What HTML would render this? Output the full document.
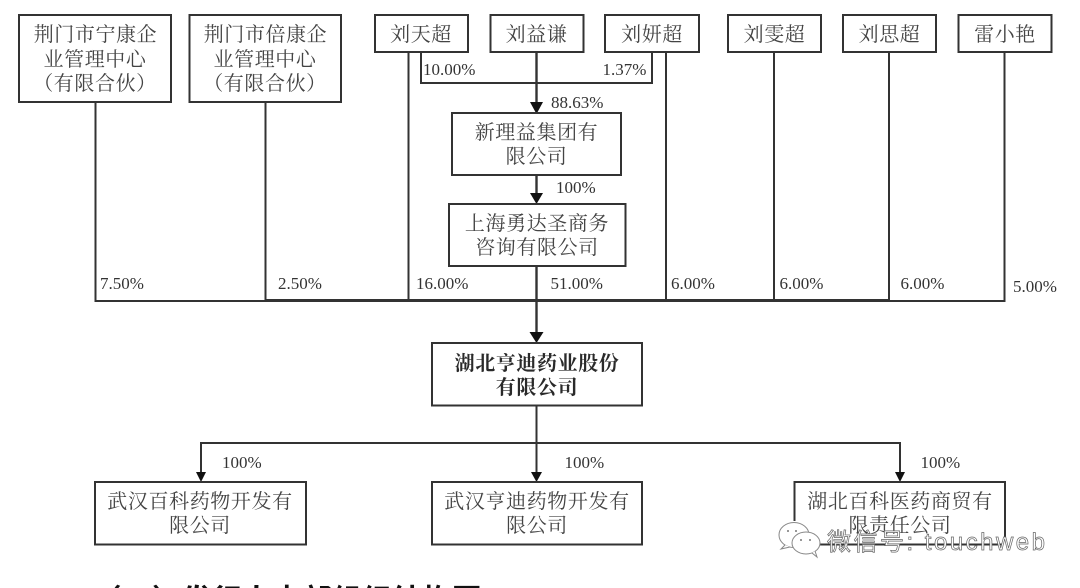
<!DOCTYPE html>
<html lang="zh">
<head>
<meta charset="utf-8">
<title>股权结构图</title>
<style>
html,body{margin:0;padding:0;background:#fff;width:1080px;height:588px;overflow:hidden}
body{position:relative}
svg{display:block;overflow:hidden;filter:blur(.35px)}
.b{fill:#fff;stroke:#333;stroke-width:2}
.l{fill:none;stroke:#333;stroke-width:2}
.a{fill:#111}
.t{font-family:"Liberation Serif","Noto Serif CJK SC",serif;font-size:20px;letter-spacing:.6px;fill:#444;text-anchor:middle}
.s{font-family:"Liberation Serif","Noto Serif CJK SC",serif;font-size:20px;font-weight:700;letter-spacing:.6px;fill:#2a2a2a;text-anchor:middle}
.p{font-family:"Liberation Serif",serif;font-size:17px;fill:#333}
.h{position:absolute;left:92px;top:581px;width:420px;height:7px;overflow:hidden;filter:blur(.35px)}
.h div{font-family:"Liberation Sans","Noto Sans CJK SC",sans-serif;font-size:29.5px;line-height:40px;font-weight:700;color:#111;letter-spacing:.5px;white-space:nowrap}
.w{font-family:"Liberation Sans","Noto Sans CJK SC",sans-serif;font-size:24px;fill:#fff;stroke:#666;stroke-width:.7}
</style>
</head>
<body>
<svg width="1080" height="588" viewBox="0 0 1080 588" xmlns="http://www.w3.org/2000/svg">
<rect width="1080" height="588" fill="#fff"/>

<!-- connectors -->
<path class="l" d="M95.5 102V301H1004.5V52"/>
<path class="l" d="M265.5 102V301M408.5 52V301M666 52V301M774 52V301M889 52V301"/>
<path class="l" d="M421 52V83H652V52"/>
<path class="l" style="stroke-width:2.4" d="M536.5 52V104M536.5 175V195M536.5 266V333"/>
<path class="l" style="stroke-width:3" d="M265 300.5H890"/>
<path class="l" d="M536.5 406V472M201 472V443H900V472"/>

<!-- arrowheads -->
<path class="a" d="M530 102H543L536.5 114Z"/>
<path class="a" d="M530 193H543L536.5 204Z"/>
<path class="a" d="M529.5 332H543.5L536.5 343Z"/>
<path class="a" d="M196 472H206L201 482Z"/>
<path class="a" d="M531 472H542L536.5 482Z"/>
<path class="a" d="M895 472H905L900 482Z"/>

<!-- top row -->
<rect class="b" x="19" y="15" width="152" height="87"/>
<text class="t" x="95.500" y="41">荆门市宁康企</text>
<text class="t" x="95" y="66">业管理中心</text>
<text class="t" x="95" y="90">（有限合伙）</text>

<rect class="b" x="189.500" y="15" width="151.500" height="87"/>
<text class="t" x="265.500" y="41">荆门市倍康企</text>
<text class="t" x="265" y="66">业管理中心</text>
<text class="t" x="265" y="90">（有限合伙）</text>

<rect class="b" x="375" y="15" width="93" height="37"/>
<text class="t" x="421" y="41">刘天超</text>
<rect class="b" x="490.500" y="15" width="93" height="37"/>
<text class="t" x="536.500" y="41">刘益谦</text>
<rect class="b" x="605" y="15" width="94" height="37"/>
<text class="t" x="652" y="41">刘妍超</text>
<rect class="b" x="728" y="15" width="93" height="37"/>
<text class="t" x="774.500" y="41">刘雯超</text>
<rect class="b" x="843" y="15" width="93" height="37"/>
<text class="t" x="889.500" y="41">刘思超</text>
<rect class="b" x="958.500" y="15" width="93" height="37"/>
<text class="t" x="1005" y="41">雷小艳</text>

<!-- middle -->
<rect class="b" x="452" y="113" width="169" height="62"/>
<text class="t" x="536.500" y="139">新理益集团有</text>
<text class="t" x="536.500" y="163">限公司</text>

<rect class="b" x="449" y="204" width="176.500" height="62"/>
<text class="t" x="537" y="230">上海勇达圣商务</text>
<text class="t" x="537" y="254">咨询有限公司</text>

<rect class="b" x="432" y="343" width="210" height="62.500"/>
<text class="s" x="537" y="370">湖北亨迪药业股份</text>
<text class="s" x="537" y="394">有限公司</text>

<!-- bottom -->
<rect class="b" x="95" y="482" width="211" height="62.500"/>
<text class="t" x="200" y="508">武汉百科药物开发有</text>
<text class="t" x="200" y="532">限公司</text>

<rect class="b" x="432" y="482" width="210" height="62.500"/>
<text class="t" x="537" y="508">武汉亨迪药物开发有</text>
<text class="t" x="537" y="532">限公司</text>

<rect class="b" x="794.500" y="482" width="210.500" height="62.500"/>
<text class="t" x="900" y="508">湖北百科医药商贸有</text>
<text class="t" x="900" y="532">限责任公司</text>

<!-- percentages -->
<text class="p" x="423" y="75">10.00%</text>
<text class="p" x="602.500" y="75">1.37%</text>
<text class="p" x="551" y="108">88.63%</text>
<text class="p" x="556" y="193">100%</text>
<text class="p" x="100" y="289">7.50%</text>
<text class="p" x="278" y="289">2.50%</text>
<text class="p" x="416" y="289">16.00%</text>
<text class="p" x="550.500" y="289">51.00%</text>
<text class="p" x="671" y="289">6.00%</text>
<text class="p" x="779.500" y="289">6.00%</text>
<text class="p" x="900.500" y="289">6.00%</text>
<text class="p" x="1013" y="292">5.00%</text>
<text class="p" x="222" y="468">100%</text>
<text class="p" x="564.500" y="468">100%</text>
<text class="p" x="920.500" y="468">100%</text>

<!-- watermark -->
<path d="M786 521H800V548H786ZM1003 540H1008V546H1003Z" fill="#fff"/>
<g fill="none" stroke="#888" stroke-width="1">
  <ellipse cx="794" cy="535" rx="15" ry="12.500" fill="#fff"/>
  <path d="M785 545L781 549L790 547" fill="#fff"/>
  <ellipse cx="806" cy="543" rx="14" ry="11" fill="#fff"/>
  <path d="M812 553L817 557L815 551" fill="#fff"/>
</g>
<g fill="#777">
  <circle cx="788" cy="531" r="1"/><circle cx="796" cy="531" r="1"/>
  <circle cx="801" cy="540" r="1"/><circle cx="810" cy="540" r="1"/>
</g>
<text class="w" x="827" y="550" textLength="218" lengthAdjust="spacing">微信号: touchweb</text>
</svg>
<!-- heading cut off at bottom -->
<div class="h"><div>（二）发行人内部组织结构图</div></div>
</body>
</html>
